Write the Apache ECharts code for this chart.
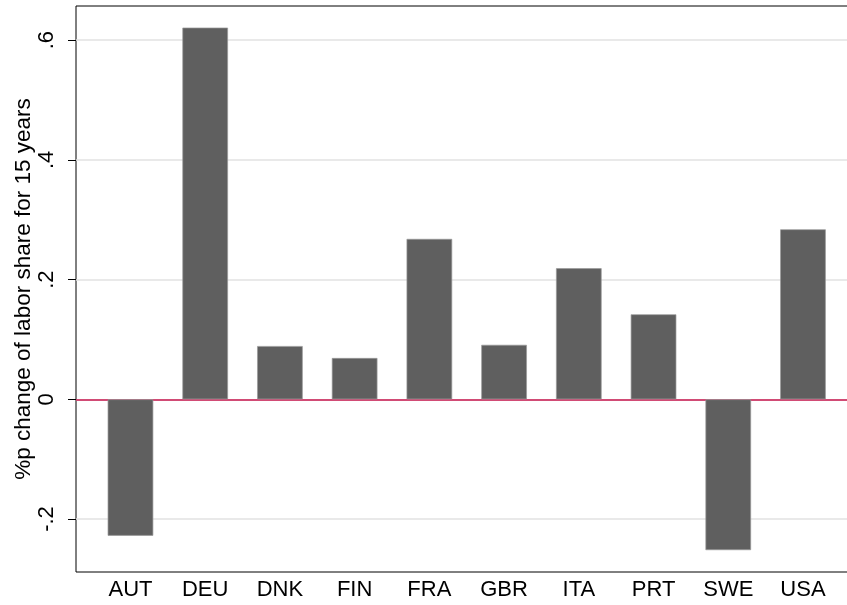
<!DOCTYPE html>
<html>
<head>
<meta charset="utf-8">
<script src="https://cdn.jsdelivr.net/npm/echarts@6/dist/echarts.min.js"></script>
<style>
html,body{margin:0;padding:0;background:#fff;}
#main{width:847px;height:605px;}
</style>
</head>
<body>
<div id="main"></div>
<script>
// countries and %p change of labor share
var countries = ['AUT', 'DEU', 'DNK', 'FIN', 'FRA', 'GBR', 'ITA', 'PRT', 'SWE', 'USA'];
var laborChange = [-0.228, 0.621, 0.089, 0.069, 0.268, 0.091, 0.219, 0.142, -0.252, 0.284];
var yTitle = '%p change of labor share for 15 years';

var font = 'Liberation Sans, Arial, sans-serif';
var myChart = echarts.init(document.getElementById('main'));

var barData = [];
var idx = [];
for (var i = 0; i < countries.length; i++) {
    barData.push([i, laborChange[i]]);
    idx.push(i);
}

// x range so bars sit where the stata plot puts them
var xMin = -0.729, xMax = 9.656;

var option = {
    animation: false,
    backgroundColor: '#fff',
    grid: [
        // visible plot box
        {left: 76, right: -5, top: 6, bottom: 33, outerBoundsMode: 'none', containLabel: false,
         show: true, borderColor: '#000', borderWidth: 1, backgroundColor: 'transparent'},
        // same scale, stretched past the page so ticks land on -.2 ... .6
        {left: 76, right: -5, top: -79.5, bottom: -33.7, outerBoundsMode: 'none', containLabel: false}
    ],
    xAxis: [{
        gridIndex: 0,
        type: 'value',
        min: xMin, max: xMax,
        axisLine: {show: false, onZero: false},
        axisTick: {show: false},
        splitLine: {show: false},
        axisLabel: {
            customValues: idx,
            margin: 7,
            fontSize: 22,
            color: '#000',
            fontFamily: font,
            formatter: function (v) { return countries[Math.round(v)]; }
        }
    }, {
        gridIndex: 1,
        type: 'value',
        min: xMin, max: xMax,
        show: false
    }],
    yAxis: [{
        gridIndex: 0,
        type: 'value',
        min: -0.2886, max: 0.657,
        axisLine: {show: false, onZero: false},
        axisTick: {show: false},
        axisLabel: {show: false},
        splitLine: {show: false},
        name: yTitle,
        nameLocation: 'middle',
        nameGap: 41,
        nameTextStyle: {fontSize: 22.5, color: '#000', fontFamily: font}
    }, {
        gridIndex: 1,
        type: 'value',
        min: -0.4, max: 0.8, interval: 0.2,
        axisLine: {show: false, onZero: false},
        axisTick: {show: true, length: 8, lineStyle: {color: '#000', width: 1}},
        splitLine: {show: true, lineStyle: {color: '#e2e2e2', width: 1.5}},
        axisLabel: {
            rotate: 90,
            margin: 18,
            fontSize: 22,
            color: '#000',
            fontFamily: font,
            formatter: function (v) {
                if (Math.abs(v) < 1e-9) return '0';
                return String(Math.round(v * 10) / 10).replace('0.', '.');
            }
        }
    }],
    series: [{
        type: 'bar',
        xAxisIndex: 1,
        yAxisIndex: 1,
        data: barData,
        barWidth: 45.6,
        z: 3,
        itemStyle: {color: '#5f5f5f', borderColor: '#9a9a9a', borderWidth: 0.7},
        markLine: {
            silent: true,
            symbol: 'none',
            z: 2,
            label: {show: false},
            lineStyle: {color: '#c8164e', width: 1.5, type: 'solid'},
            data: [{yAxis: 0}]
        }
    }]
};
myChart.setOption(option);
</script>
</body>
</html>
